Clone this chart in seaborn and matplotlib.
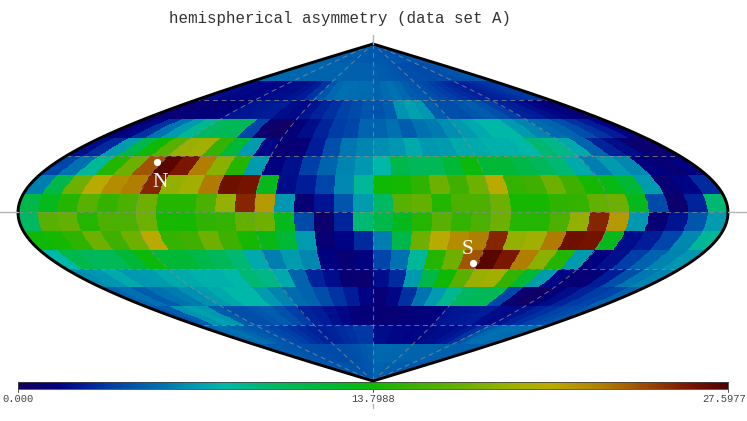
import numpy as np
import matplotlib
matplotlib.use("Agg")
import matplotlib.pyplot as plt
from matplotlib.colors import LinearSegmentedColormap
import seaborn as sns

TITLE = "hemispherical asymmetry (data set A)"
VMAX = 27.5977
TICK_LABELS = ["0.000", "13.7988", "27.5977"]

# One list per 10-degree latitude band, north to south, 36 cells from lon -180 to 180
band_n85 = [5.0,5.0,5.0,5.0,4.9,4.9,4.9,4.9,4.8,4.8,4.8,4.8,4.7,4.7,4.7,4.6,4.6,4.6, 4.6,4.6,4.6,4.6,4.5,4.5,4.5,4.5,4.5,4.4,4.4,4.4,4.4,4.4,4.4,4.5,4.5,4.5]
band_n75 = [5.2,5.2,5.2,5.1,5.1,5.1,5.1,5.0,5.0,5.0,5.0,5.0,5.0,4.9,4.9,4.9,4.9,4.9, 4.9,4.8,4.7,4.6,4.5,4.4,4.3,4.2,4.1,4.0,4.0,4.0,4.1,4.2,4.3,4.4,4.6,4.8]
band_n65 = [2.0,2.0,1.8,1.8,1.7,1.8,1.9,2.0,2.0,2.2,2.5,3.3,4.5,5.2,5.6,5.4,5.3,5.3, 5.0,5.3,5.5,5.2,4.8,4.5,4.3,3.9,3.6,3.3,3.0,2.8,2.6,2.8,3.0,3.2,3.4,3.4]
band_n55 = [1.0,1.0,1.1,1.2,1.4,1.5,2.2,2.3,2.4,2.5,2.0,1.9,2.2,2.8,3.2,3.7,4.0,4.5, 4.4,4.8,6.6,7.2,6.8,4.8,4.3,4.2,4.5,4.8,4.3,3.6,2.8,2.5,2.1,1.8,1.2,1.1]
band_n45 = [1.0,1.8,3.2,5.7,7.0,8.7,10.0,10.5,10.5,3.8,0.7,0.4,1.2,2.0,2.8,3.5,3.8,5.0, 5.0,5.5,4.8,5.5,5.9,6.5,7.0,7.5,8.0,8.0,7.0,6.2,5.3,5.0,4.2,3.3,2.5,1.7]
band_n35 = [2.0,3.0,7.0,11.0,13.7,16.5,19.0,19.5,15.0,12.0,7.0,1.8,1.0,1.1,2.5,4.3,5.8,6.2, 6.5,6.7,7.5,6.8,7.0,7.5,7.5,7.7,7.7,8.0,9.5,9.0,7.5,5.0,2.8,2.0,0.9,0.8]
band_n25 = [3.8,5.5,8.5,14.5,17.5,24.0,27.2,26.0,22.7,18.5,14.5,7.0,1.5,2.1,3.6,5.0,6.2,6.8, 8.0,11.0,10.3,10.5,12.0,13.5,12.0,12.0,11.0,10.3,9.5,7.5,6.0,7.0,6.3,1.5,1.0,1.5]
band_n15 = [6.0,11.0,17.5,20.7,22.0,22.7,25.5,18.8,19.3,22.8,26.5,26.3,13.0,2.0,2.5,3.8,6.3,8.5, 13.6,14.0,14.8,17.5,15.5,17.5,20.7,15.0,15.5,17.5,15.5,14.0,13.2,12.0,7.0,1.0,1.7,3.0]
band_n05 = [11.0,13.0,14.5,16.5,15.0,16.0,17.5,14.5,14.5,16.0,18.8,25.5,21.5,6.8,1.0,2.2,4.5,7.0, 10.0,16.5,17.0,14.5,16.0,16.0,17.5,14.0,14.0,14.8,15.0,17.0,17.5,13.0,4.0,0.7,2.7,9.5]
band_s05 = [10.0,16.5,17.0,14.5,16.0,16.0,17.5,14.0,14.0,14.8,15.0,17.0,17.5,13.0,4.0,0.7,2.7,9.5, 11.0,13.0,14.5,16.5,15.0,16.0,17.5,14.5,14.5,16.0,18.8,25.5,21.5,6.8,1.0,2.2,4.5,7.0]
band_s15 = [13.6,14.0,14.8,17.5,15.5,17.5,20.7,15.0,15.5,17.5,15.5,14.0,13.2,12.0,7.0,1.0,1.7,3.0, 6.0,11.0,17.5,20.7,22.0,22.7,25.5,18.8,19.3,22.8,26.5,26.3,13.0,2.0,2.5,3.8,6.3,8.5]
band_s25 = [8.0,11.0,10.3,10.5,12.0,13.5,12.0,12.0,11.0,10.3,9.5,7.5,6.0,7.0,6.3,1.5,1.0,1.5, 3.8,5.5,8.5,14.5,17.5,24.0,27.2,26.0,22.7,18.5,14.5,7.0,1.5,2.1,3.6,5.0,6.2,6.8]
band_s35 = [6.5,6.7,7.5,6.8,7.0,7.5,7.5,7.7,7.7,8.0,9.5,9.0,7.5,5.0,2.8,2.0,0.9,0.8, 2.0,3.0,7.0,11.0,13.7,16.5,19.0,19.5,15.0,12.0,7.0,1.8,1.0,1.1,2.5,4.3,5.8,6.2]
band_s45 = [5.0,5.5,4.8,5.5,5.9,6.5,7.0,7.5,8.0,8.0,7.0,6.2,5.3,5.0,4.2,3.3,2.5,1.7, 1.0,1.8,3.2,5.7,7.0,8.7,10.0,10.5,10.5,3.8,0.7,0.4,1.2,2.0,2.8,3.5,3.8,5.0]
band_s55 = [4.4,4.8,6.6,7.2,6.8,4.8,4.3,4.2,4.5,4.8,4.3,3.6,2.8,2.5,2.1,1.8,1.2,1.1, 1.0,1.0,1.1,1.2,1.4,1.5,2.2,2.3,2.4,2.5,2.0,1.9,2.2,2.8,3.2,3.7,4.0,4.5]
band_s65 = [5.0,5.3,5.5,5.2,4.8,4.5,4.3,3.9,3.6,3.3,3.0,2.8,2.6,2.8,3.0,3.2,3.4,3.4, 2.0,2.0,1.8,1.8,1.7,1.8,1.9,2.0,2.0,2.2,2.5,3.3,4.5,5.2,5.6,5.4,5.3,5.3]
band_s75 = [4.9,4.8,4.7,4.6,4.5,4.4,4.3,4.2,4.1,4.0,4.0,4.0,4.1,4.2,4.3,4.4,4.6,4.8, 5.2,5.2,5.2,5.1,5.1,5.1,5.1,5.0,5.0,5.0,5.0,5.0,5.0,4.9,4.9,4.9,4.9,4.9]
band_s85 = [4.6,4.6,4.6,4.6,4.5,4.5,4.5,4.5,4.5,4.4,4.4,4.4,4.4,4.4,4.4,4.5,4.5,4.5, 5.0,5.0,5.0,5.0,4.9,4.9,4.9,4.9,4.8,4.8,4.8,4.8,4.7,4.7,4.7,4.6,4.6,4.6]

bands = [band_n85, band_n75, band_n65, band_n55, band_n45, band_n35, band_n25, band_n15, band_n05,
         band_s05, band_s15, band_s25, band_s35, band_s45, band_s55, band_s65, band_s75, band_s85]

cmap_values = [0, 1.5, 2.5, 3.6, 5.5, 6.8, 8, 10, 12.6, 13.8, 15.5, 17.6, 19.3, 20.7, 22.8, 24.7, 26, 27.5977]
cmap_colors = ["#14005f", "#000080", "#001c98", "#0040a8", "#0070b0", "#0098b0", "#00b8a8", "#00b860",
               "#00b828", "#10b800", "#40b000", "#70b000", "#a0b000", "#b8ac00", "#b07c00", "#984000",
               "#7c1800", "#500000"]

N_POINT = (-122.9, 27.0)
S_POINT = (57.1, -27.0)

sns.set_theme(style="white")
cmap = LinearSegmentedColormap.from_list(
    "asym", [(v / VMAX, c) for v, c in zip(cmap_values, cmap_colors)], N=256)

W, H = 747, 421
fig = plt.figure(figsize=(W / 100, H / 100), dpi=100, facecolor="white")
ax = fig.add_axes([0, 0, 1, 1])
cx, cy = 373.0, 212.5
sx, sy = 710 / 360, 337 / 180
ax.set_xlim(-cx / sx, (W - cx) / sx)
ax.set_ylim(-(H - cy) / sy, cy / sy)
ax.axis("off")


def project(lon, lat):
    return np.asarray(lon) * np.cos(np.radians(lat)), np.asarray(lat)


sub = 5
lat_edges = np.linspace(90, -90, 18 * sub + 1)
lon_edges = np.linspace(-180, 180, 37)
LON, LAT = np.meshgrid(lon_edges, lat_edges)
X, Y = project(LON, LAT)
C = np.repeat(np.array(bands, dtype=float), sub, axis=0)
ax.pcolormesh(X, Y, C, cmap=cmap, vmin=0, vmax=VMAX, shading="flat", antialiased=False,
              edgecolors="none", linewidth=0)

grid = dict(color="#8c8c8c", lw=0.7, ls=(0, (5, 4)), alpha=0.75)
fine = np.linspace(-90, 90, 181)
for lon in (-120, -60, 0, 60, 120):
    ax.plot(*project(np.full_like(fine, lon), fine), **grid)
for lat in (-60, -30, 0, 30, 60):
    ax.plot(*project(np.array([-180.0, 180.0]), lat * np.ones(2)), **grid)

ax.plot(*project(np.full_like(fine, -180.0), fine), color="black", lw=2.1, solid_capstyle="round")
ax.plot(*project(np.full_like(fine, 180.0), fine), color="black", lw=2.1, solid_capstyle="round")

ext = dict(color="#b4b4b4", lw=1.0)
ax.plot([-cx / sx, -180], [0, 0], **ext)
ax.plot([180, (W - cx) / sx], [0, 0], **ext)
ax.plot([0, 0], [90, 95], **ext)
ax.plot([0, 0], [-102.5, -104.5], **ext)

for point in (N_POINT, S_POINT):
    px, py = project(*point)
    ax.plot(px, py, "o", color="white", ms=5.2, mew=0)
ax.text(-108, 15.8, "N", color="white", family="Liberation Serif", fontsize=15.5, ha="center", va="center")
ax.text(48.2, -20.0, "S", color="white", family="Liberation Serif", fontsize=15.5, ha="center", va="center")

fig.text(340 / W, 1 - 18 / H, TITLE, family="Liberation Mono", fontsize=11.4, color="#333333",
         ha="center", va="center")

cax = fig.add_axes([18 / W, 1 - 389 / H, 710 / W, 7 / H])
ramp = np.linspace(0, VMAX, 256).reshape(1, -1)
sns.heatmap(ramp, ax=cax, cmap=cmap, vmin=0, vmax=VMAX, cbar=False, xticklabels=False, yticklabels=False)
for s in cax.spines.values():
    s.set_visible(True)
    s.set_color("#444444")
    s.set_linewidth(0.6)

for frac, label in zip((0, 0.5, 1), TICK_LABELS):
    xp = (18 + 710 * frac) / W
    fig.add_artist(plt.Line2D([xp, xp], [1 - 389 / H, 1 - 392 / H], color="#555555", lw=0.7))
    if frac == 1:
        fig.text(746 / W, 1 - 398.5 / H, label, family="Liberation Mono", fontsize=7.6, color="#444444",
                 ha="right", va="center")
    else:
        fig.text(xp, 1 - 398.5 / H, label, family="Liberation Mono", fontsize=7.6, color="#444444",
                 ha="center", va="center")

fig.savefig("out.png", dpi=100)
